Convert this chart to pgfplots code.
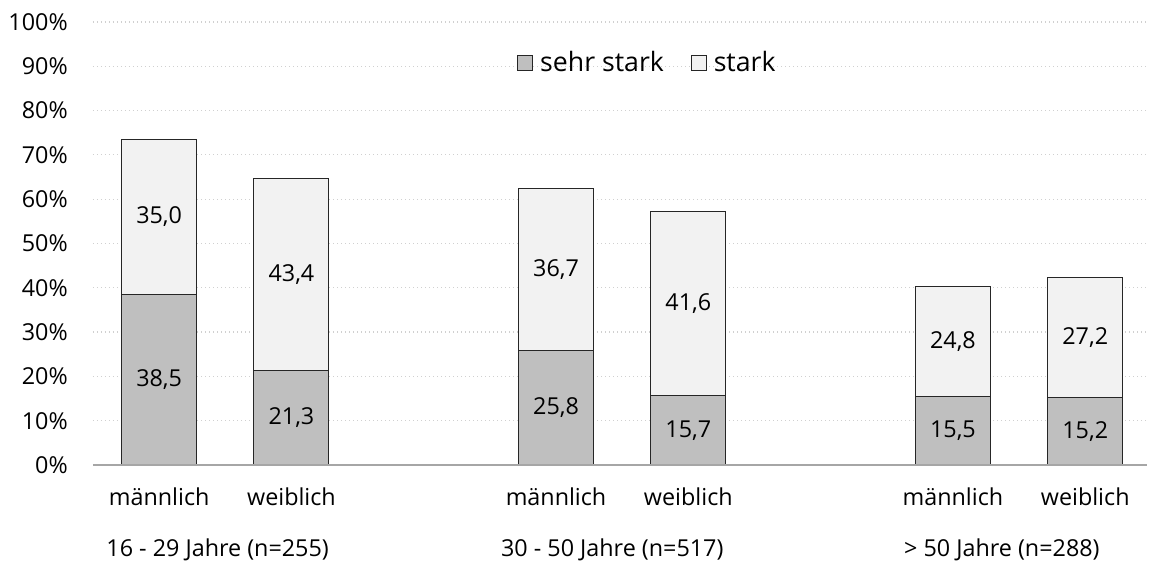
\documentclass[border=0pt]{standalone}
\usepackage{fontspec}
\setmainfont{Open Sans}
\usepackage{pgfplots}
\pgfplotsset{compat=1.18}
\definecolor{dk}{HTML}{BFBFBF}
\definecolor{lt}{HTML}{F2F2F2}
\definecolor{gridc}{HTML}{D0D0D0}
\definecolor{axc}{HTML}{A6A6A6}
\newcommand{\fs}{\fontsize{17.5pt}{20pt}\selectfont}
\begin{document}
\fs
\begin{tikzpicture}
\path[use as bounding box] (0,0) rectangle (862.5pt,422.25pt);
\begin{axis}[
  at={(69.75pt,73.5pt)}, anchor=south west,
  scale only axis,
  width=790.8pt, height=332.25pt,
  ybar stacked, bar width=56.25pt,
  xmin=-0.5, xmax=7.47,
  ymin=0, ymax=100,
  ytick={0,10,...,100},
  xtick={0,1,3,4,6,7},
  xticklabels={männlich,weiblich,männlich,weiblich,männlich,weiblich},
  yticklabel={\pgfmathprintnumber{\tick}\%},
  /pgf/number format/assume math mode=true,
  major tick length=0pt,
  axis line style={draw=none},
  ymajorgrids,
  grid style={color=gridc, line width=0.9pt, dash pattern=on 1pt off 2pt},
  yticklabel style={font=\fs, inner sep=0pt, anchor=east, xshift=-18.75pt},
  xticklabel style={font=\fs, inner sep=0pt, anchor=base, yshift=-30.75pt},
  clip=false,
  legend columns=2,
  legend style={draw=none, fill=none, at={(0.5254,0.9075)}, anchor=center,
    font=\fontsize{20pt}{23pt}\selectfont,
    /tikz/every even column/.append style={column sep=19pt},
    nodes={inner sep=1pt}},
  legend image code/.code={\draw[#1, line width=0.75pt] (0pt,-5.6pt) rectangle (11.25pt,5.6pt); \path[draw=none, fill=none] (0pt,0pt) rectangle (16pt,0.1pt);},
]
\addplot[draw=black!85, line width=0.75pt, fill=dk] coordinates {(0,38.5) (1,21.3) (3,25.8) (4,15.7) (6,15.5) (7,15.2)};
\addplot[draw=black!85, line width=0.75pt, fill=lt] coordinates {(0,35.0) (1,43.4) (3,36.7) (4,41.6) (6,24.8) (7,27.2)};
\legend{sehr stark, stark}
\coordinate (L) at (rel axis cs:0,0);
\coordinate (R) at (rel axis cs:1,0);
\coordinate (a1) at (axis cs:0,19.25);
\coordinate (a2) at (axis cs:0,56.0);
\coordinate (b1) at (axis cs:1,10.65);
\coordinate (b2) at (axis cs:1,43.0);
\coordinate (c1) at (axis cs:3,12.9);
\coordinate (c2) at (axis cs:3,44.15);
\coordinate (d1) at (axis cs:4,7.85);
\coordinate (d2) at (axis cs:4,36.5);
\coordinate (e1) at (axis cs:6,7.75);
\coordinate (e2) at (axis cs:6,27.9);
\coordinate (f1) at (axis cs:7,7.6);
\coordinate (f2) at (axis cs:7,28.8);
\coordinate (g1) at (axis cs:0.442,0);
\coordinate (g2) at (axis cs:3.425,0);
\coordinate (g3) at (axis cs:6.37,0);
\end{axis}
\draw[axc, line width=0.9pt] (L) -- (R);
\node at (a1) {38,5};
\node at (a2) {35,0};
\node at (b1) {21,3};
\node at (b2) {43,4};
\node at (c1) {25,8};
\node at (c2) {36,7};
\node at (d1) {15,7};
\node at (d2) {41,6};
\node at (e1) {15,5};
\node at (e2) {24,8};
\node at (f1) {15,2};
\node at (f2) {27,2};
\node[anchor=base, yshift=-68.5pt] at (g1) {16 - 29 Jahre (n=255)};
\node[anchor=base, yshift=-68.5pt] at (g2) {30 - 50 Jahre (n=517)};
\node[anchor=base, yshift=-68.5pt] at (g3) {> 50 Jahre (n=288)};
\end{tikzpicture}
\end{document}
